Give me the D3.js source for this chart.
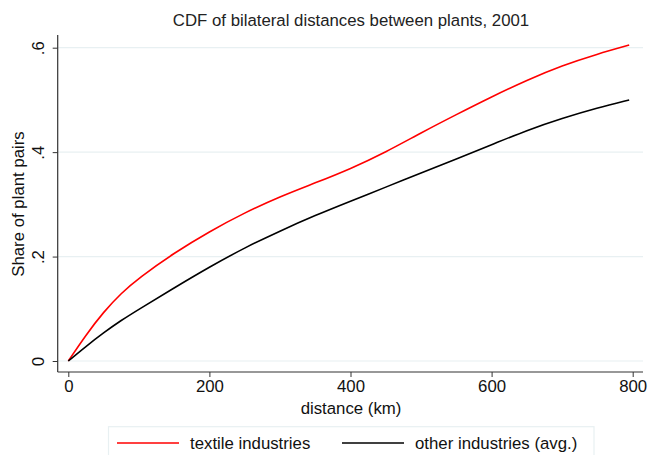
<!DOCTYPE html>
<html><head><meta charset="utf-8">
<script src="https://cdn.jsdelivr.net/npm/d3@7"></script>
<style>body{margin:0;background:#fff}svg{display:block;font-family:"Liberation Sans",Arial,sans-serif}</style>
</head><body><svg id="c" width="648" height="455"></svg>
<script>
const distances = [0,25,50,75,100,150,200,250,300,350,400,450,500,550,600,650,700,750,795];
const textile = [0,0.05,0.094,0.130,0.159,0.207,0.248,0.284,0.315,0.341,0.368,0.400,0.437,0.472,0.506,0.538,0.566,0.588,0.605];
const other = [0,0.028,0.054,0.078,0.099,0.140,0.180,0.217,0.249,0.279,0.306,0.333,0.360,0.387,0.414,0.442,0.465,0.485,0.500];
const xTicks = [0,200,400,600,800];
const yTicks = [0,0.2,0.4,0.6];
const yTickLabels = ["0",".2",".4",".6"];
const seriesNames = ["textile industries","other industries (avg.)"];
const seriesColors = ["#ff0000","#000000"];

(function(){
const svg = d3.select("#c");
const x = d3.scaleLinear().domain([0,800]).range([68.3,632.7]);
const y = d3.scaleLinear().domain([0,0.6]).range([361,47.7]);
const pLeft = 57.7, pRight = 643, pTop = 35, pBottom = 372;
const fs = 16.8;

// gridlines
svg.append("g").selectAll("line").data(yTicks).join("line")
  .attr("x1",pLeft).attr("x2",pRight).attr("y1",d=>y(d)).attr("y2",d=>y(d))
  .attr("stroke","#e8f0f2").attr("stroke-width",1.2);

// title
svg.append("text").attr("x",351).attr("y",26).attr("text-anchor","middle")
  .attr("font-size",fs).attr("fill","#222").text("CDF of bilateral distances between plants, 2001");

// y axis
const yAxis = svg.append("g").attr("transform",`translate(${pLeft},0)`)
  .call(d3.axisLeft(y).tickValues(yTicks).tickSize(5).tickFormat((d,i)=>yTickLabels[i]));
yAxis.select(".domain").attr("d",`M0,${pTop}V${pBottom}`).attr("stroke","#333").attr("stroke-width",1.2);
yAxis.selectAll(".tick line").attr("stroke","#333");
yAxis.selectAll(".tick text").attr("font-size",fs).attr("fill","#111")
  .attr("font-family","'Liberation Sans',Arial,sans-serif")
  .attr("text-anchor","middle").attr("x",0).attr("y",0).attr("dy","0.35em")
  .attr("transform","translate(-20,0) rotate(-90)");

// x axis
const xAxis = svg.append("g").attr("transform",`translate(0,${pBottom})`)
  .call(d3.axisBottom(x).tickValues(xTicks).tickSize(5).tickFormat(d3.format("d")));
xAxis.select(".domain").attr("d",`M${pLeft},0H${pRight}`).attr("stroke","#333").attr("stroke-width",1.2);
xAxis.selectAll(".tick line").attr("stroke","#333");
xAxis.selectAll(".tick text").attr("font-size",fs).attr("fill","#111").attr("y",8)
  .attr("font-family","'Liberation Sans',Arial,sans-serif");

// axis titles
svg.append("text").attr("x",351).attr("y",414).attr("text-anchor","middle")
  .attr("font-size",fs).attr("fill","#111").text("distance (km)");
svg.append("text").attr("transform",`translate(24,204) rotate(-90)`).attr("text-anchor","middle")
  .attr("font-size",fs).attr("fill","#111").text("Share of plant pairs");

// lines
const line = d3.line().x((d,i)=>x(distances[i])).y(d=>y(d)).curve(d3.curveBasis);
[textile, other].forEach((s,i)=>{
  svg.append("path").attr("d",line(s)).attr("fill","none")
    .attr("stroke",seriesColors[i]).attr("stroke-width",1.6);
});

// legend
const lg = svg.append("g");
lg.append("rect").attr("x",108.5).attr("y",426.7).attr("width",485.5).attr("height",40)
  .attr("fill","#fff").attr("stroke","#e8f0f2").attr("stroke-width",1.2);
const legendX = [117, 342];
seriesNames.forEach((n,i)=>{
  lg.append("line").attr("x1",legendX[i]).attr("x2",legendX[i]+62).attr("y1",443).attr("y2",443)
    .attr("stroke",seriesColors[i]).attr("stroke-width",1.6);
  lg.append("text").attr("x",legendX[i]+73).attr("y",449).attr("font-size",fs).attr("fill","#111").text(n);
});
})();
</script></body></html>
